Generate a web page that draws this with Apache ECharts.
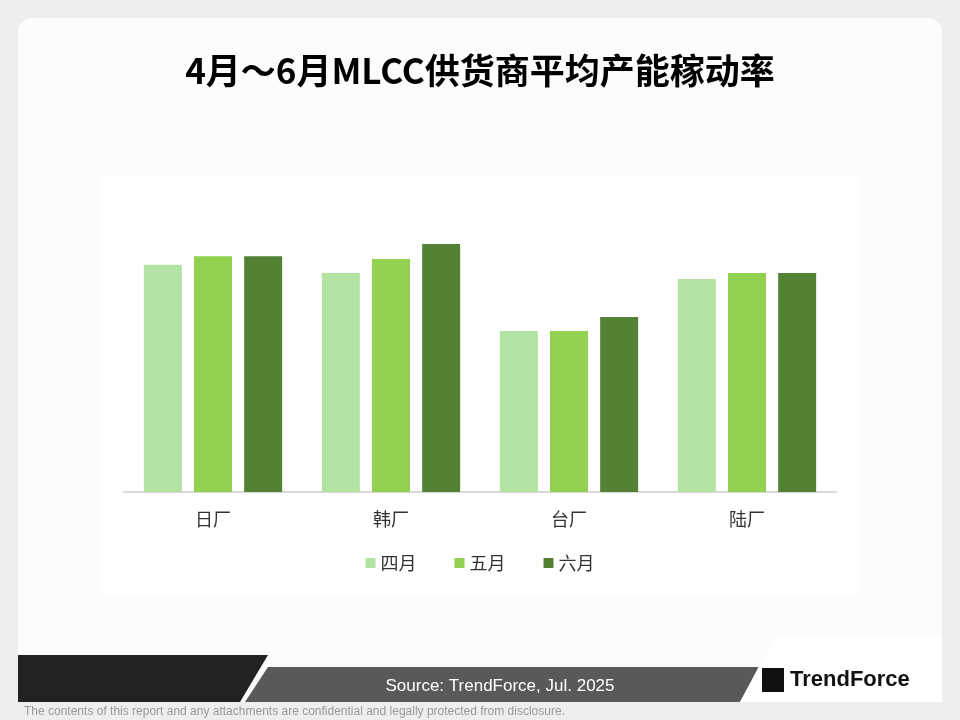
<!DOCTYPE html>
<html><head><meta charset="utf-8">
<script src="https://cdn.jsdelivr.net/npm/echarts@6/dist/echarts.min.js"></script>
<style>html,body{margin:0;padding:0;background:#eeeeee}#c{width:960px;height:720px}</style>
</head><body><div id="c"></div>
<script>
const categories = ['日厂','韩厂','台厂','陆厂'];
const seriesNames = ['四月','五月','六月'];
const apr = [72.8, 70.2, 51.6, 68.3];
const may = [75.6, 74.7, 51.6, 70.2];
const jun = [75.6, 79.5, 56.1, 70.2];
const colors = ['#b3e3a2','#92d050','#548235'];
const cjk = '"Noto Sans CJK SC", sans-serif';
const chart = echarts.init(document.getElementById('c'));
chart.setOption({
  animation:false,
  backgroundColor:'#eeeeee',
  title:{text:'4月～6月MLCC供货商平均产能稼动率',left:'center',top:48,
    textStyle:{fontFamily:cjk,fontSize:35,fontWeight:'bold',color:'#000'}},
  legend:{bottom:143,left:'center',itemWidth:10,itemHeight:10,itemGap:38,icon:'rect',
    textStyle:{fontFamily:cjk,fontSize:18,color:'#333'},data:seriesNames},
  grid:{left:124,right:124,top:180,bottom:228},
  xAxis:{type:'category',data:categories,axisTick:{show:false},
    axisLine:{lineStyle:{color:'#d9d9d9',width:2}},
    axisLabel:{fontFamily:cjk,fontSize:18,color:'#333',margin:18}},
  yAxis:{type:'value',min:0,max:100,show:false,splitLine:{show:false}},
  graphic:[
    {type:'rect',z:-10,shape:{x:18,y:18,width:924,height:684,r:14},style:{fill:'#fcfcfc'}},
    {type:'rect',z:-9,shape:{x:100,y:177,width:760,height:418},style:{fill:'#fff'}},
    {type:'polygon',shape:{points:[[18,655],[268,655],[240,702],[18,702]]},style:{fill:'#222'}},
    {type:'polygon',shape:{points:[[268,667],[760,667],[740,702],[245,702]]},style:{fill:'#595959'}},
    {type:'polygon',shape:{points:[[775,636],[942,636],[942,702],[740,702]]},style:{fill:'#fff'}},
    {type:'text',style:{text:'Source: TrendForce, Jul. 2025',x:500,y:686,align:'center',verticalAlign:'middle',
      font:'17px "Liberation Sans", Arial',fill:'#fff'}},
    {type:'text',style:{text:'TrendForce',x:790,y:680,verticalAlign:'middle',
      font:'bold 22px "Liberation Sans", Arial',fill:'#111'}},
    {type:'rect',shape:{x:762,y:668,width:22,height:24},style:{fill:'#111'}},
    {type:'text',style:{text:'The contents of this report and any attachments are confidential and legally protected from disclosure.',
      x:24,y:712,verticalAlign:'middle',font:'12px "Liberation Sans", Arial',fill:'#999'}}
  ],
  series:[apr,may,jun].map((d,i)=>({name:seriesNames[i],type:'bar',data:d,barWidth:38,barGap:'32%',
    itemStyle:{color:colors[i]}}))
});
</script></body></html>
